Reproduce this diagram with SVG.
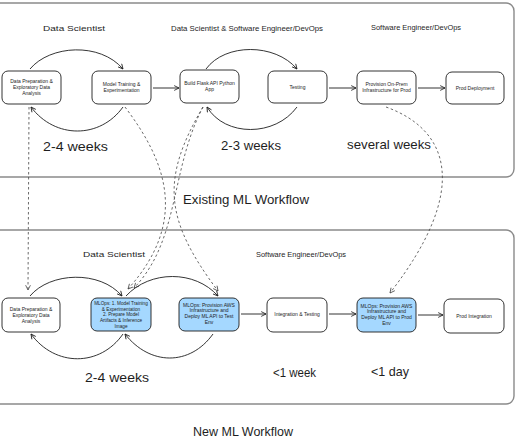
<svg xmlns="http://www.w3.org/2000/svg" width="530" height="442" viewBox="0 0 530 442">
<style>
text{font-family:"Liberation Sans","DejaVu Sans",sans-serif;fill:#1e1e1e}
.nt{font-size:5px;text-anchor:middle}
.hd{font-size:8px}
.big{font-size:13px}
.ttl{font-size:12px}
.node{fill:#ffffff;stroke:#1e1e1e;stroke-width:0.9}
.blue{fill:#a5d8ff;stroke:#1e1e1e;stroke-width:0.9}
.frame{fill:none;stroke:#8a8a8a;stroke-width:1.4}
.arc{fill:none;stroke:#1e1e1e;stroke-width:0.9;marker-end:url(#ah)}
.dash{fill:none;stroke:#444;stroke-width:0.8;stroke-dasharray:2.5 2.5;marker-end:url(#ahd)}
</style>
<defs>
<marker id="ah" viewBox="0 0 10 10" refX="9" refY="5" markerWidth="6" markerHeight="6" markerUnits="userSpaceOnUse" orient="auto"><path d="M1,1 L9,5 L1,9" fill="none" stroke="#1e1e1e" stroke-width="1.4"/></marker>
<marker id="ahd" viewBox="0 0 10 10" refX="9" refY="5" markerWidth="6" markerHeight="6" markerUnits="userSpaceOnUse" orient="auto"><path d="M1,1 L9,5 L1,9" fill="none" stroke="#444" stroke-width="1.3"/></marker>
</defs>
<rect width="530" height="442" fill="#ffffff"/>

<g id="frames">
<rect class="frame" x="-10" y="3" width="524" height="174" rx="8"/>
<rect class="frame" x="-10" y="230" width="524" height="174" rx="8"/>
</g>

<g id="labels">
<text class="hd" x="43" y="31" textLength="62" lengthAdjust="spacingAndGlyphs">Data Scientist</text>
<text class="hd" x="171" y="31" textLength="152" lengthAdjust="spacingAndGlyphs">Data Scientist &amp; Software Engineer/DevOps</text>
<text class="hd" x="371" y="30" textLength="90" lengthAdjust="spacingAndGlyphs">Software Engineer/DevOps</text>
<text class="big" x="43" y="151" textLength="65" lengthAdjust="spacingAndGlyphs">2-4 weeks</text>
<text class="big" x="221" y="150" textLength="60" lengthAdjust="spacingAndGlyphs">2-3 weeks</text>
<text class="big" x="347" y="149" textLength="84" lengthAdjust="spacingAndGlyphs">several weeks</text>
<text class="ttl" x="183" y="204" textLength="126" lengthAdjust="spacingAndGlyphs">Existing ML Workflow</text>
<text class="hd" x="83" y="257" textLength="62" lengthAdjust="spacingAndGlyphs">Data Scientist</text>
<text class="hd" x="256" y="257" textLength="90" lengthAdjust="spacingAndGlyphs">Software Engineer/DevOps</text>
<text class="big" x="85" y="382" textLength="64" lengthAdjust="spacingAndGlyphs">2-4 weeks</text>
<text class="big" x="273" y="377" textLength="43" lengthAdjust="spacingAndGlyphs">&lt;1 week</text>
<text class="big" x="371" y="376" textLength="38" lengthAdjust="spacingAndGlyphs">&lt;1 day</text>
<text class="ttl" x="193" y="436" textLength="100" lengthAdjust="spacingAndGlyphs">New ML Workflow</text>
</g>

<g id="connectors">
<path class="arc" d="M30,69 C50,45 100,42 123,69"/>
<path class="arc" d="M123,107 C100,139 55,139 31,107"/>
<path class="arc" d="M153,88 L179,88"/>
<path class="arc" d="M206,69 C225,43 275,43 297,69"/>
<path class="arc" d="M297,107 C275,137 225,137 207,107"/>
<path class="arc" d="M329,88 L356,88"/>
<path class="arc" d="M418,88 L445,88"/>
<path class="arc" d="M30,296 C50,272 100,270 122,296"/>
<path class="arc" d="M123,334 C100,367 55,367 31,334"/>
<path class="arc" d="M126,296 C150,270 195,270 218,296"/>
<path class="arc" d="M213,334 C190,366 150,366 125,334"/>
<path class="arc" d="M241,314 L266,314"/>
<path class="arc" d="M329,314 L356,314"/>
<path class="arc" d="M418,315 L443,315"/>
<path class="dash" d="M29,107 L28,290"/>
<path class="dash" d="M125,107 C165,160 190,220 128,289"/>
<path class="dash" d="M203,107 C170,170 180,240 134,288"/>
<path class="dash" d="M203,107 C160,180 165,220 218,291"/>
<path class="dash" d="M386,107 C450,130 470,190 390,293"/>
</g>

<g id="n1"><rect class="node" x="2" y="71" width="59" height="33" rx="6"/>
<text class="nt" x="31.5" y="82.5">Data Preparation &amp;</text><text class="nt" x="31.5" y="88.5">Exploratory Data</text><text class="nt" x="31.5" y="94.5">Analysis</text></g>
<g id="n2"><rect class="node" x="92" y="71" width="59" height="33" rx="6"/>
<text class="nt" x="121.5" y="86">Model Training &amp;</text><text class="nt" x="121.5" y="92">Experimentation</text></g>
<g id="n3"><rect class="node" x="180" y="70" width="59" height="33" rx="6"/>
<text class="nt" x="209.5" y="85">Build Flask API Python</text><text class="nt" x="209.5" y="91">App</text></g>
<g id="n4"><rect class="node" x="268" y="71" width="59" height="32" rx="6"/>
<text class="nt" x="297.5" y="89">Testing</text></g>
<g id="n5"><rect class="node" x="357" y="71" width="59" height="33" rx="6"/>
<text class="nt" x="386.5" y="86">Provision On-Prem</text><text class="nt" x="386.5" y="92">Infrastructure for Prod</text></g>
<g id="n6"><rect class="node" x="446" y="72" width="58" height="32" rx="6"/>
<text class="nt" x="475" y="90">Prod Deployment</text></g>

<g id="b1"><rect class="node" x="2" y="298" width="58" height="34" rx="6"/>
<text class="nt" x="31" y="311">Data Preparation &amp;</text><text class="nt" x="31" y="317">Exploratory Data</text><text class="nt" x="31" y="323">Analysis</text></g>
<g id="b2"><rect class="blue" x="91" y="298" width="60" height="33" rx="6"/>
<text class="nt" x="121" y="305" style="font-size:4.7px">MLOps: 1. Model Training</text><text class="nt" x="121" y="310.7" style="font-size:4.7px">&amp; Experimentation</text><text class="nt" x="121" y="316.4" style="font-size:4.7px">2. Prepare Model</text><text class="nt" x="121" y="322.1" style="font-size:4.7px">Artifacts &amp; Inference</text><text class="nt" x="121" y="327.8" style="font-size:4.7px">Image</text></g>
<g id="b3"><rect class="blue" x="179" y="298" width="60" height="33" rx="6"/>
<text class="nt" x="209" y="306.5">MLOps: Provision AWS</text><text class="nt" x="209" y="312.2">Infrastructure and</text><text class="nt" x="209" y="317.9">Deploy ML API to Test</text><text class="nt" x="209" y="323.6">Env</text></g>
<g id="b4"><rect class="node" x="267" y="298" width="60" height="34" rx="6"/>
<text class="nt" x="297" y="316">Integration &amp; Testing</text></g>
<g id="b5"><rect class="blue" x="357" y="298" width="59" height="34" rx="6"/>
<text class="nt" x="386.5" y="307.5">MLOps: Provision AWS</text><text class="nt" x="386.5" y="313.3">Infrastructure and</text><text class="nt" x="386.5" y="319.1">Deploy ML API to Prod</text><text class="nt" x="386.5" y="324.9">Env</text></g>
<g id="b6"><rect class="node" x="444" y="299" width="60" height="34" rx="6"/>
<text class="nt" x="474" y="317.5">Prod Integration</text></g>
</svg>
